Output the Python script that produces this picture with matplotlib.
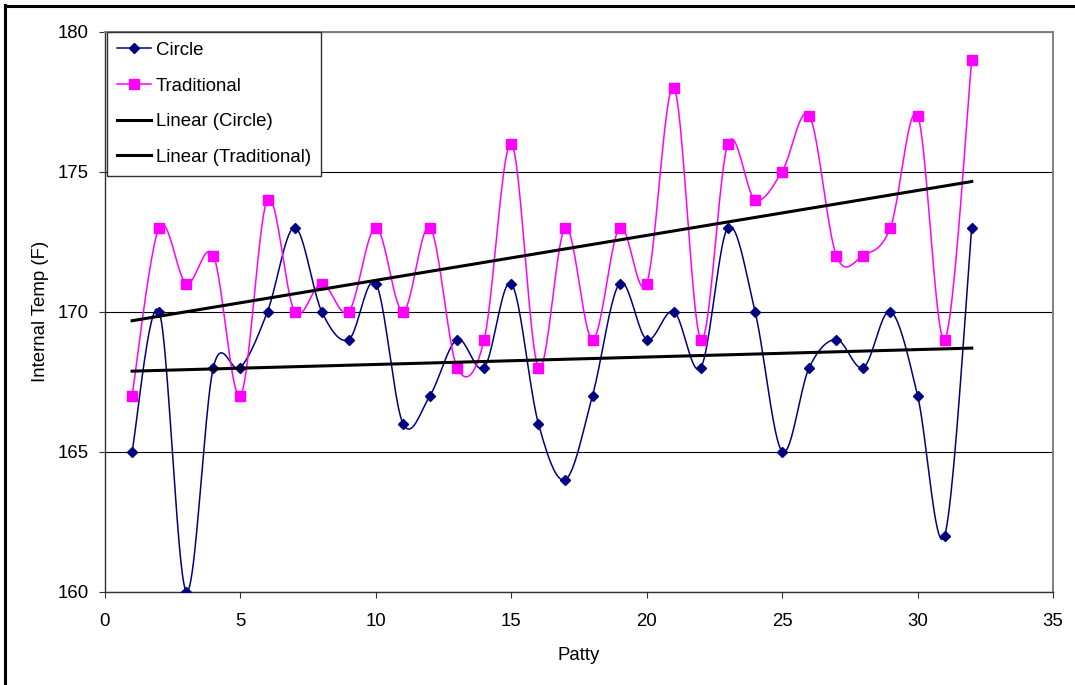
import numpy as np
import matplotlib
matplotlib.use("Agg")
import matplotlib.pyplot as plt
from matplotlib.lines import Line2D

plt.rcParams['font.family'] = ['Liberation Sans', 'DejaVu Sans']

# internal temperature readings per patty
patty = list(range(1, 33))
circle = [165, 170, 160, 168, 168, 170, 173, 170, 169, 171, 166, 167, 169, 168, 171, 166,
          164, 167, 171, 169, 170, 168, 173, 170, 165, 168, 169, 168, 170, 167, 162, 173]
traditional = [167, 173, 171, 172, 167, 174, 170, 171, 170, 173, 170, 173, 168, 169, 176, 168,
               173, 169, 173, 171, 178, 169, 176, 174, 175, 177, 172, 172, 173, 177, 169, 179]

x_ticks = [0, 5, 10, 15, 20, 25, 30, 35]
y_ticks = [160, 165, 170, 175, 180]


def smooth(x, y, steps=24):
    # spreadsheet-style smoothed line: cubic bezier through each point,
    # control points taken from the neighbouring points (1/6 tension)
    pts = np.column_stack([x, y]).astype(float)
    n = len(pts)
    t = np.linspace(0, 1, steps)[1:, None]
    out = [pts[:1]]
    for i in range(n - 1):
        p0 = pts[max(i - 1, 0)]
        p1 = pts[i]
        p2 = pts[i + 1]
        p3 = pts[min(i + 2, n - 1)]
        c1 = p1 + (p2 - p0) / 6
        c2 = p2 - (p3 - p1) / 6
        seg = ((1 - t) ** 3 * p1 + 3 * (1 - t) ** 2 * t * c1
               + 3 * (1 - t) * t ** 2 * c2 + t ** 3 * p2)
        out.append(seg)
    out = np.vstack(out)
    return out[:, 0], out[:, 1]


fig = plt.figure(figsize=(10.75, 6.85), dpi=100)
ax = fig.add_axes([105 / 1075, 1 - 591.5 / 685, 948 / 1075, 560 / 685])

navy = '#000080'
magenta = '#FF00FF'

sx, sy = smooth(patty, circle)
ax.plot(sx, sy, color=navy, lw=1.1, zorder=3)
ax.plot(patty, circle, ls='none', marker='D', color=navy, ms=5.5, zorder=4)
circle_h = Line2D([], [], color=navy, lw=1.1, marker='D', ms=5.5)

sx, sy = smooth(patty, traditional)
ax.plot(sx, sy, color=magenta, lw=1.1, zorder=3)
ax.plot(patty, traditional, ls='none', marker='s', color=magenta, ms=7, zorder=4)
trad_h = Line2D([], [], color=magenta, lw=1.1, marker='s', ms=7)

# linear trendlines
xs = np.array([patty[0], patty[-1]])
lin_c = np.polyval(np.polyfit(patty, circle, 1), xs)
lin_t = np.polyval(np.polyfit(patty, traditional, 1), xs)
ax.plot(xs, lin_c, color='black', lw=2.2, zorder=5)
ax.plot(xs, lin_t, color='black', lw=2.2, zorder=5)
lin_c_h = Line2D([], [], color='black', lw=2.2)
lin_t_h = Line2D([], [], color='black', lw=2.2)

ax.set_xlim(0, 35)
ax.set_ylim(160, 180)
ax.set_xticks(x_ticks)
ax.set_yticks(y_ticks)
ax.yaxis.grid(True, color='black', lw=0.8)
ax.set_axisbelow(True)

for side in ('top', 'right'):
    ax.spines[side].set_color('#808080')
    ax.spines[side].set_linewidth(1.4)
for side in ('left', 'bottom'):
    ax.spines[side].set_color('#303030')
    ax.spines[side].set_linewidth(1.0)

ax.tick_params(axis='both', direction='out', length=4.5, width=0.8,
               color='#303030', labelsize=13.4)
ax.tick_params(axis='y', pad=7)
ax.tick_params(axis='x', pad=11)

ax.set_xlabel('Patty', fontsize=13.4, labelpad=12)
ax.set_ylabel('Internal Temp (F)', fontsize=13.4, labelpad=6)

leg = ax.legend([circle_h, trad_h, lin_c_h, lin_t_h],
                ['Circle', 'Traditional', 'Linear (Circle)', 'Linear (Traditional)'],
                loc='upper left', bbox_to_anchor=(0.002, 1.0), fontsize=13.4,
                frameon=True, fancybox=False, framealpha=1, edgecolor='#303030',
                handlelength=1.8, handletextpad=0.27, labelspacing=1.0,
                borderpad=0.56, borderaxespad=0.0)
leg.get_frame().set_linewidth(1.0)
leg.set_zorder(10)

# chart frame (left and top edges)
fig.add_artist(Line2D([5.5 / 1075, 5.5 / 1075], [0, 1 - 5 / 685], transform=fig.transFigure,
                      color='black', lw=2.2))
fig.add_artist(Line2D([4.5 / 1075, 1], [1 - 5.5 / 685, 1 - 5.5 / 685], transform=fig.transFigure,
                      color='black', lw=2.2))

fig.savefig('out.png', dpi=100)
